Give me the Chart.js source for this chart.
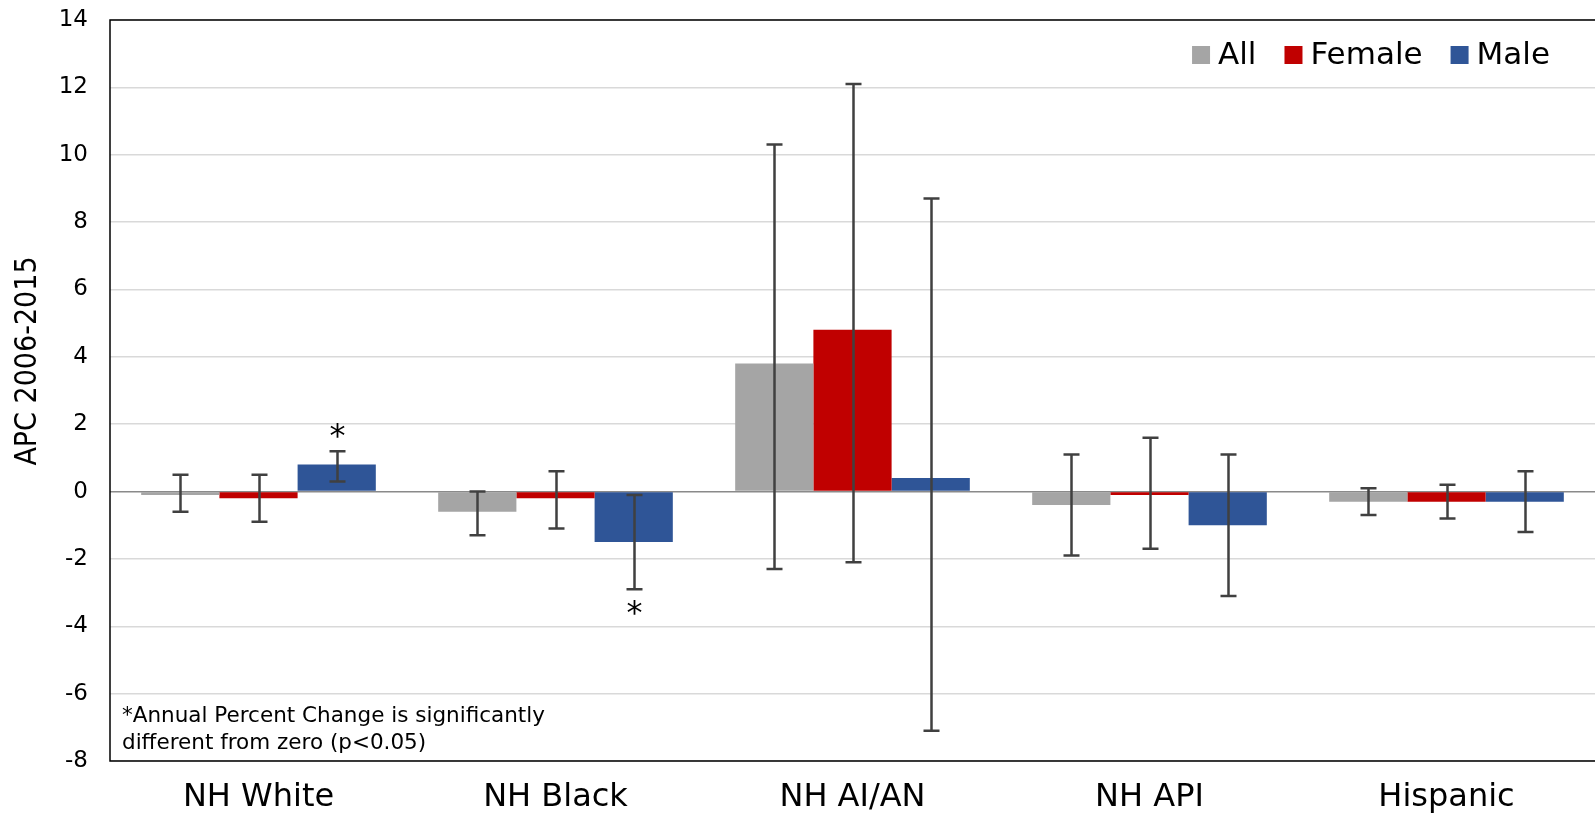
<!DOCTYPE html>
<html>
<head>
<meta charset="utf-8">
<script src="https://cdn.jsdelivr.net/npm/chart.js@4/dist/chart.umd.min.js"></script>
<style>
  html, body { margin: 0; padding: 0; background: #fff; }
  #wrap { width: 1595px; height: 813px; }
</style>
</head>
<body>
<div id="wrap"><canvas id="c" width="1595" height="813"></canvas></div>
<script>
// Groups and annual percent change (2006-2015) by sex
const categories = ['NH White', 'NH Black', 'NH AI/AN', 'NH API', 'Hispanic'];
const seriesNames = ['All', 'Female', 'Male'];
const seriesColors = ['#A5A5A5', '#C00000', '#2F5597'];

const allValues    = [-0.1, -0.6, 3.8, -0.4, -0.3];
const femaleValues = [-0.2, -0.2, 4.8, -0.1, -0.3];
const maleValues   = [ 0.8, -1.5, 0.4, -1.0, -0.3];

// 95% confidence limits
const allLower    = [-0.6, -1.3, -2.3, -1.9, -0.7];
const allUpper    = [ 0.5,  0.0, 10.3,  1.1,  0.1];
const femaleLower = [-0.9, -1.1, -2.1, -1.7, -0.8];
const femaleUpper = [ 0.5,  0.6, 12.1,  1.6,  0.2];
const maleLower   = [ 0.3, -2.9, -7.1, -3.1, -1.2];
const maleUpper   = [ 1.2, -0.1,  8.7,  1.1,  0.6];

// Significance flags (APC different from zero)
const allSig    = [false, false, false, false, false];
const femaleSig = [false, false, false, false, false];
const maleSig   = [true,  true,  false, false, false];

const yTicks = [-8, -6, -4, -2, 0, 2, 4, 6, 8, 10, 12, 14];
const yTitle = 'APC 2006-2015';

const footnoteLines = ['*Annual Percent Change is significantly', 'different from zero (p<0.05)'];

const values = [allValues, femaleValues, maleValues];
const lowers = [allLower, femaleLower, maleLower];
const uppers = [allUpper, femaleUpper, maleUpper];
const sigs = [allSig, femaleSig, maleSig];

const FONT = '"DejaVu Sans", Verdana, sans-serif';
const NARROW = '"Liberation Sans Narrow", "DejaVu Sans Condensed", sans-serif';

const errorBars = {
  id: 'errorBars',
  afterDatasetsDraw(chart) {
    const ctx = chart.ctx;
    const y = chart.scales.y;
    ctx.save();
    ctx.strokeStyle = '#404040';
    ctx.lineWidth = 2.5;
    ctx.fillStyle = '#000';
    ctx.font = '32px ' + FONT;
    ctx.textAlign = 'center';
    ctx.textBaseline = 'middle';
    chart.data.datasets.forEach((ds, i) => {
      const meta = chart.getDatasetMeta(i);
      meta.data.forEach((bar, j) => {
        const x = Math.round(bar.x) + 0.5;
        const yl = y.getPixelForValue(lowers[i][j]);
        const yh = y.getPixelForValue(uppers[i][j]);
        const cap = 8;
        ctx.beginPath();
        ctx.moveTo(x, yl); ctx.lineTo(x, yh);
        ctx.moveTo(x - cap, yh); ctx.lineTo(x + cap, yh);
        ctx.moveTo(x - cap, yl); ctx.lineTo(x + cap, yl);
        ctx.stroke();
        if (sigs[i][j]) {
          if (values[i][j] >= 0) {
            ctx.fillText('*', x, yh - 13);
          } else {
            ctx.fillText('*', x, yl + 25);
          }
        }
      });
    });
    ctx.restore();
  }
};

const frameAndNotes = {
  id: 'frameAndNotes',
  afterDraw(chart) {
    const ctx = chart.ctx;
    const a = chart.chartArea;
    ctx.save();
    // plot frame
    ctx.strokeStyle = '#000';
    ctx.lineWidth = 1.5;
    ctx.beginPath();
    ctx.moveTo(chart.width + 2, a.top);
    ctx.lineTo(a.left, a.top);
    ctx.lineTo(a.left, a.bottom);
    ctx.lineTo(chart.width + 2, a.bottom);
    ctx.stroke();

    // y axis title
    ctx.save();
    ctx.translate(28, 361);
    ctx.rotate(-Math.PI / 2);
    ctx.font = '30px ' + NARROW;
    ctx.fillStyle = '#000';
    ctx.textAlign = 'center';
    ctx.textBaseline = 'middle';
    ctx.fillText(yTitle, 0, 0);
    ctx.restore();

    // legend, top right inside the plot
    ctx.font = '31px ' + FONT;
    ctx.textBaseline = 'middle';
    ctx.textAlign = 'left';
    const sq = 18, gapIn = 8, gapOut = 28;
    const widths = seriesNames.map(n => ctx.measureText(n).width);
    let total = 0;
    widths.forEach((w, k) => { total += sq + gapIn + w + (k < widths.length - 1 ? gapOut : 0); });
    let x = 1550 - total;
    const cy = 55;
    seriesNames.forEach((n, k) => {
      ctx.fillStyle = seriesColors[k];
      ctx.fillRect(x, cy - sq / 2, sq, sq);
      ctx.fillStyle = '#000';
      ctx.fillText(n, x + sq + gapIn, cy + 1);
      x += sq + gapIn + widths[k] + gapOut;
    });

    // footnote
    ctx.font = '21.5px ' + FONT;
    ctx.textBaseline = 'middle';
    ctx.fillStyle = '#000';
    ctx.fillText(footnoteLines[0], a.left + 12, 716);
    ctx.fillText(footnoteLines[1], a.left + 12, 743);
    ctx.restore();
  }
};

new Chart(document.getElementById('c'), {
  type: 'bar',
  data: {
    labels: categories,
    datasets: seriesNames.map((n, i) => ({
      label: n,
      data: values[i],
      backgroundColor: seriesColors[i],
      borderWidth: 0,
      categoryPercentage: 0.79,
      barPercentage: 1.0
    }))
  },
  options: {
    responsive: false,
    animation: false,
    layout: { padding: { top: 20, right: 0, left: 0, bottom: 0 } },
    plugins: { legend: { display: false }, tooltip: { enabled: false } },
    scales: {
      x: {
        grid: { display: false, drawTicks: false },
        border: { display: false },
        ticks: { color: '#000', font: { family: FONT, size: 32 }, padding: 17 },
        afterFit(s) { s.height = 52; s.paddingLeft = 0; s.paddingRight = 0; }
      },
      y: {
        min: -8, max: 14,
        afterBuildTicks(s) { s.ticks = yTicks.map(v => ({ value: v })); },
        grid: {
          drawTicks: false,
          lineWidth: 1.5,
          color: ctx => (ctx.tick && ctx.tick.value === 0) ? '#8a8a8a' : '#d9d9d9'
        },
        border: { display: false },
        ticks: { color: '#000', font: { family: FONT, size: 23 }, padding: 22 },
        afterFit(s) { s.width = 110; s.paddingTop = 0; s.paddingBottom = 0; }
      }
    }
  },
  plugins: [errorBars, frameAndNotes]
});
</script>
</body>
</html>
